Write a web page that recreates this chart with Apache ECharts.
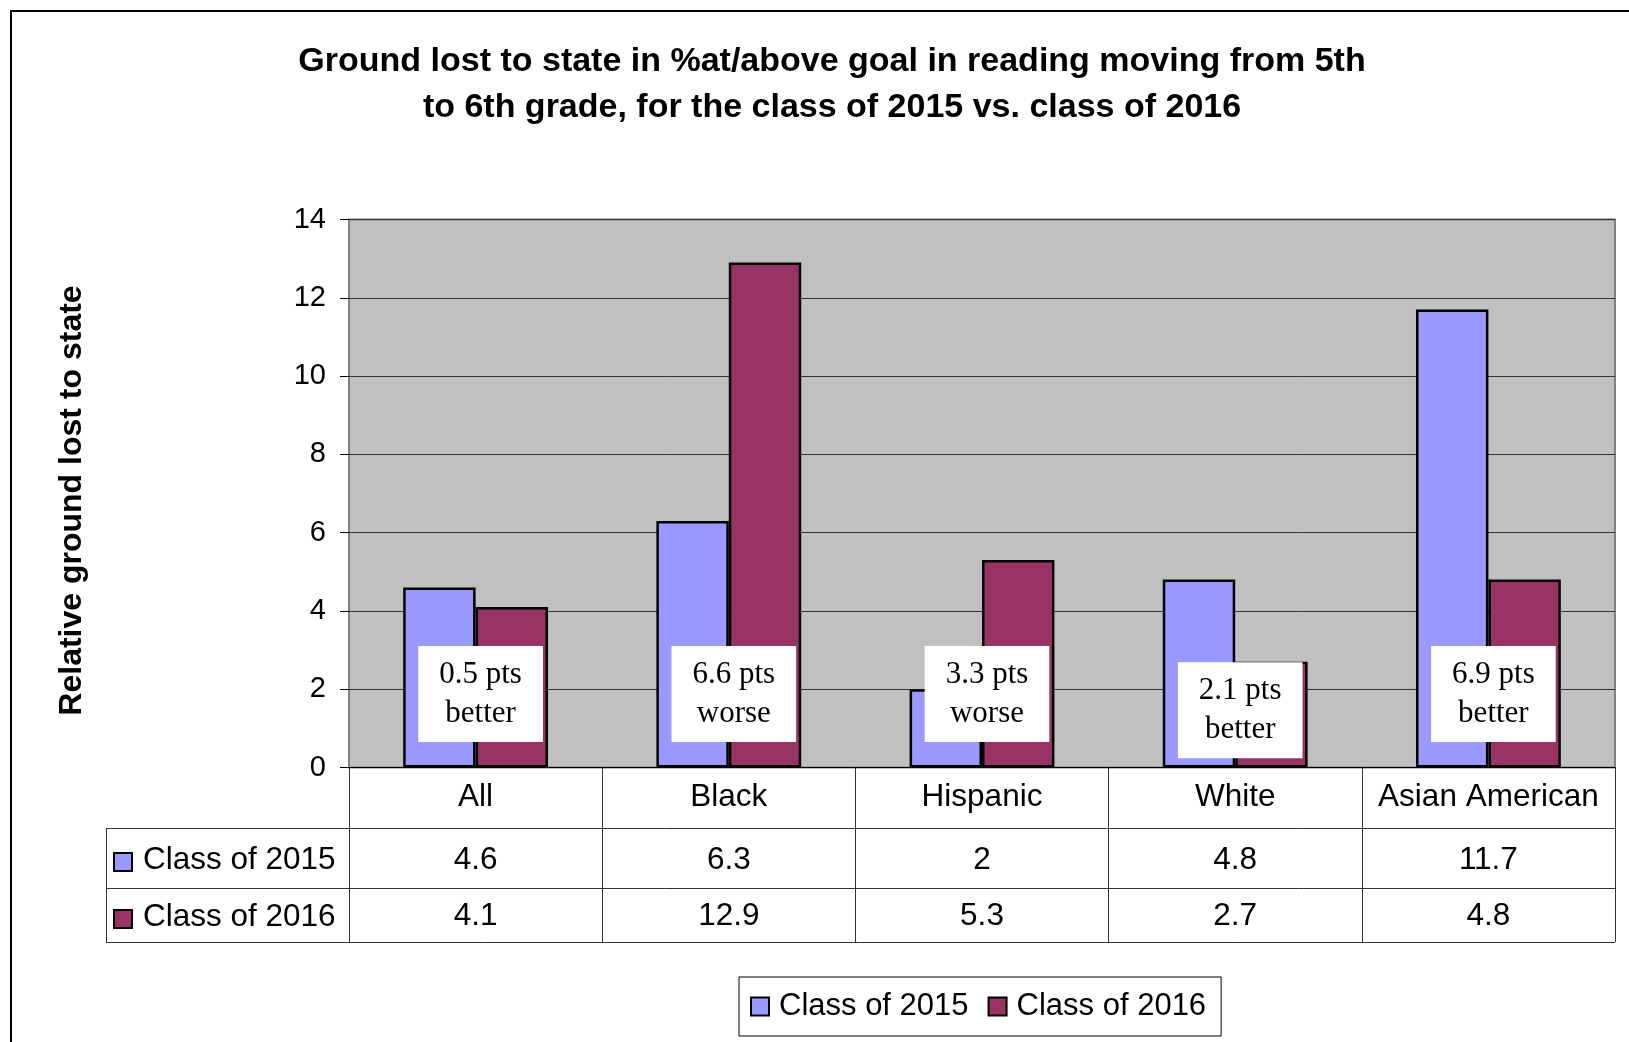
<!DOCTYPE html>
<html>
<head>
<meta charset="utf-8">
<script src="https://cdn.jsdelivr.net/npm/echarts@6/dist/echarts.min.js"></script>
<style>
  html, body { margin: 0; padding: 0; background: #fff; }
  #chart { width: 1629px; height: 1042px; }
</style>
</head>
<body>
<div id="chart"></div>
<script>
// ---- data ----
const categories = ['All', 'Black', 'Hispanic', 'White', 'Asian American'];
const seriesNames = ['Class of 2015', 'Class of 2016'];
const class2015 = [4.6, 6.3, 2, 4.8, 11.7];
const class2016 = [4.1, 12.9, 5.3, 2.7, 4.8];
const notes = ['0.5 pts\nbetter', '6.6 pts\nworse', '3.3 pts\nworse', '2.1 pts\nbetter', '6.9 pts\nbetter'];
const yMin = 0, yMax = 14, yStep = 2;
const titleText = 'Ground lost to state in %at/above goal in reading moving from 5th\nto 6th grade, for the class of 2015 vs. class of 2016';
const yAxisName = 'Relative ground lost to state';

// ---- layout ----
const SANS = '"Liberation Sans", Arial, sans-serif';
const SERIF = '"Liberation Serif", "Times New Roman", serif';
const COLORS = ['#9999FF', '#993366'];
const GL = 349, GT = 219.5, GR = 1615, GB = 767.5;
const ROW1 = 828, ROW2 = 888, ROW3 = 942, TL = 106;
const TABLE_LINE = '#333';
const TFS = 31.5;

const chart = echarts.init(document.getElementById('chart'), null, { renderer: 'canvas' });

const barSeries = [class2015, class2016].map((vals, i) => ({
  name: seriesNames[i],
  type: 'bar',
  xAxisIndex: 0,
  data: vals,
  barWidth: '28.6%',
  barGap: '0%',
  itemStyle: { color: COLORS[i], borderColor: '#000', borderWidth: 2.5 },
  emphasis: { disabled: true }
}));

const noteSeries = {
  name: 'notes',
  type: 'scatter',
  xAxisIndex: 0,
  symbol: 'circle',
  symbolSize: 1,
  itemStyle: { color: 'rgba(0,0,0,0)', opacity: 1 },
  silent: true,
  z: 10,
  data: categories.map((c, i) => [c, i === 3 ? 1.44 : 1.85]),
  label: {
    show: true,
    position: 'inside',
    offset: [5, -1],
    formatter: p => notes[p.dataIndex],
    backgroundColor: '#fff',
    padding: [11, 21, 7, 21],
    lineHeight: 39,
    fontSize: 31,
    fontFamily: SERIF,
    color: '#000',
    opacity: 1
  }
};

// left column of the data table + outer frame
const graphics = [
  { type: 'rect', silent: true, z: -10, shape: { x: 11, y: 11, width: 1700, height: 1100 },
    style: { fill: 'none', stroke: '#000', lineWidth: 2 } },
  { type: 'line', silent: true, shape: { x1: TL, y1: ROW1 + 0.5, x2: GL, y2: ROW1 + 0.5 }, style: { stroke: TABLE_LINE, lineWidth: 1 } },
  { type: 'line', silent: true, shape: { x1: TL, y1: ROW2 + 0.5, x2: GL, y2: ROW2 + 0.5 }, style: { stroke: TABLE_LINE, lineWidth: 1 } },
  { type: 'line', silent: true, shape: { x1: TL, y1: ROW3 + 0.5, x2: GR, y2: ROW3 + 0.5 }, style: { stroke: TABLE_LINE, lineWidth: 1 } },
  { type: 'line', silent: true, shape: { x1: TL + 0.5, y1: ROW1, x2: TL + 0.5, y2: ROW3 }, style: { stroke: TABLE_LINE, lineWidth: 1 } }
];
[[ROW1, ROW2], [ROW2, ROW3]].forEach((r, i) => {
  const cy = (r[0] + r[1]) / 2;
  graphics.push({ type: 'rect', silent: true, shape: { x: 114, y: cy - 5, width: 18, height: 18 },
    style: { fill: COLORS[i], stroke: '#000', lineWidth: 2 } });
  graphics.push({ type: 'text', silent: true, x: 143, y: cy + 2,
    style: { text: seriesNames[i], font: TFS + 'px ' + SANS, fill: '#000', textVerticalAlign: 'middle', verticalAlign: 'middle' } });
});

const option = {
  backgroundColor: '#fff',
  animation: false,
  title: {
    text: titleText,
    left: 827,
    textAlign: 'center',
    top: 34,
    textStyle: { fontFamily: SANS, fontSize: 34, fontWeight: 'bold', color: '#000', lineHeight: 46 }
  },
  legend: {
    data: seriesNames,
    left: 739,
    top: 977,
    icon: 'rect',
    itemWidth: 18,
    itemHeight: 18,
    itemGap: 19,
    padding: [14, 15, 14, 11],
    borderColor: '#000',
    borderWidth: 1,
    selectedMode: false,
    textStyle: { fontFamily: SANS, fontSize: 31, color: '#000', padding: [0, 0, 0, 5] }
  },
  grid: {
    left: GL, top: GT, right: 1629 - GR, bottom: 1042 - GB,
    show: true, backgroundColor: '#C0C0C0', borderColor: '#808080', borderWidth: 2,
    containLabel: false
  },
  xAxis: [
    {
      type: 'category', data: categories, position: 'bottom',
      axisLine: { lineStyle: { color: '#000', width: 1 } },
      axisTick: { show: true, length: ROW1 - GB, lineStyle: { color: TABLE_LINE } },
      axisLabel: { interval: 0, fontFamily: SANS, fontSize: TFS, color: '#000', margin: 14 }
    },
    {
      type: 'category', data: class2015.map(String), position: 'bottom', offset: ROW1 - GB,
      axisLine: { lineStyle: { color: TABLE_LINE, width: 1 } },
      axisTick: { show: true, length: ROW2 - ROW1, lineStyle: { color: TABLE_LINE } },
      axisLabel: { interval: 0, fontFamily: SANS, fontSize: TFS, color: '#000', margin: 16 }
    },
    {
      type: 'category', data: class2016.map(String), position: 'bottom', offset: ROW2 - GB,
      axisLine: { lineStyle: { color: TABLE_LINE, width: 1 } },
      axisTick: { show: true, length: ROW3 - ROW2, lineStyle: { color: TABLE_LINE } },
      axisLabel: { interval: 0, fontFamily: SANS, fontSize: TFS, color: '#000', margin: 12 }
    }
  ],
  yAxis: {
    type: 'value', min: yMin, max: yMax, interval: yStep,
    name: yAxisName, nameLocation: 'middle', nameGap: 261, nameRotate: 90,
    nameTextStyle: { fontFamily: SANS, fontSize: 32, fontWeight: 'bold', color: '#000', padding: [0, 0, 0, -14] },
    axisLine: { show: false },
    axisTick: { show: true, length: 9, lineStyle: { color: '#000' } },
    axisLabel: { fontFamily: SANS, fontSize: 29, color: '#000', margin: 23 },
    splitLine: { show: true, lineStyle: { color: '#333', width: 1 } }
  },
  series: [...barSeries, noteSeries],
  graphic: graphics
};

chart.setOption(option);
</script>
</body>
</html>
